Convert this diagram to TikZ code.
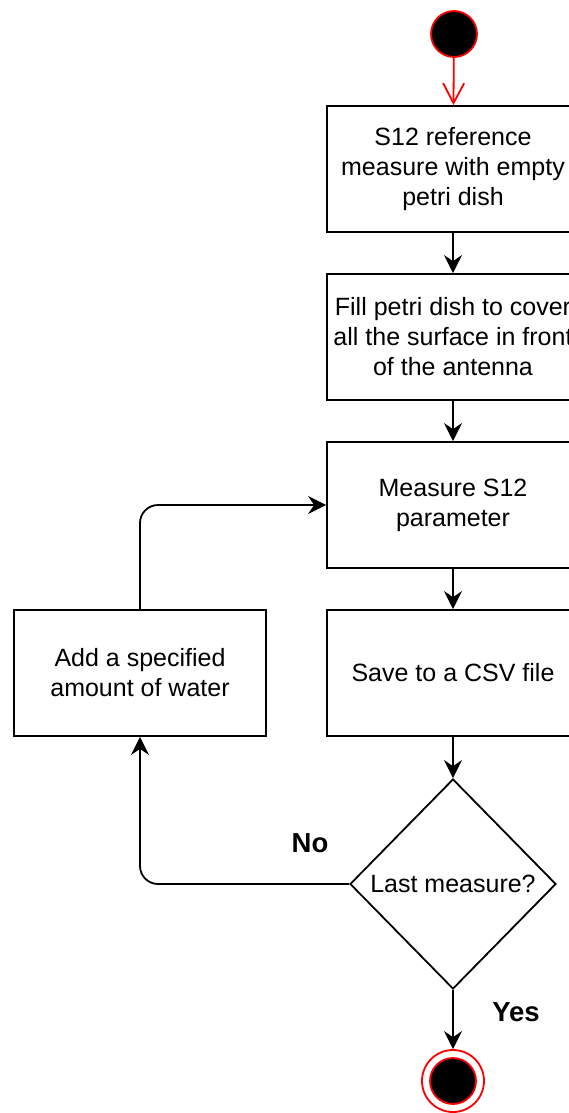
\documentclass[tikz,border=0pt]{standalone}
\usepackage{fontspec}
\setmainfont{Liberation Sans}
\usetikzlibrary{arrows.meta,shapes.geometric}
\tikzset{
  box/.style={draw, line width=1.8pt, minimum width=252pt, minimum height=126pt, align=center, inner sep=0pt, font=\fontsize{25}{30}\selectfont},
  dia/.style={draw, line width=1.8pt, diamond, minimum width=206pt, minimum height=210pt, inner sep=0pt, font=\fontsize{25}{30}\selectfont},
  arr/.style={line width=1.8pt, -{Stealth[length=18pt,width=18pt,inset=6pt]}},
  redarr/.style={line width=1.8pt, red, -{Straight Barb[length=20pt,width=21pt]}},
  lbl/.style={font=\fontsize{27.5}{32}\selectfont\bfseries, inner sep=0pt},
}
\begin{document}
\begin{tikzpicture}[x=1pt,y=-1pt]
\useasboundingbox (0,0) rectangle (568,1113);
\node[circle, fill=black, draw=red, line width=1.8pt, minimum size=46pt, inner sep=0pt] (start) at (454,34) {};
\node[box] (b1) at (453,169) {S12 reference\\measure with empty\\petri dish};
\node[box] (b2) at (453,337) {Fill petri dish to cover\\all the surface in front\\of the antenna};
\node[box] (b3) at (453,505) {Measure S12\\parameter};
\node[box] (b4) at (453,673) {Save to a CSV file};
\node[box] (add) at (140,673) {Add a specified\\amount of water};
\node[dia] (dec) at (453,884) {Last measure?};
\node[circle, draw=red, line width=1.8pt, minimum size=62pt, inner sep=0pt] (end) at (453,1081) {};
\node[circle, fill=black, draw=red, line width=1.8pt, minimum size=46pt, inner sep=0pt] (endin) at (453,1081) {};
\node[lbl] (no) at (310,843) {No};
\node[lbl] (yes) at (516,1012) {Yes};
\draw[redarr] (start) -- (b1);
\draw[arr] (b1) -- (b2);
\draw[arr] (b2) -- (b3);
\draw[arr] (b3) -- (b4);
\draw[arr] (b4) -- (dec);
\draw[arr] (dec) -- (end);
\draw[arr, rounded corners=18pt] (dec.west) -| (add.south);
\draw[arr, rounded corners=18pt] (add.north) |- (b3.west);
\end{tikzpicture}
\end{document}
